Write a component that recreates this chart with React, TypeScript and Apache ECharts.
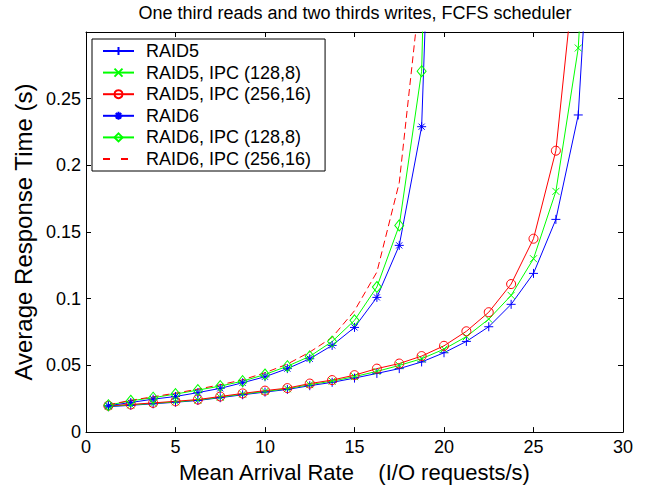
import React, { useEffect, useRef } from "react";
import * as echarts from "echarts";

const FONT = "'Liberation Sans', Arial, Helvetica, sans-serif";

const rateRaid5 = [1.25, 2.5, 3.75, 5, 6.25, 7.5, 8.75, 10, 11.25, 12.5, 13.75, 15, 16.25, 17.5, 18.75, 20, 21.25, 22.5, 23.75, 25, 26.25, 27.5, 28.75];
const raid5 = [0.0190, 0.0201, 0.0212, 0.0224, 0.0237, 0.0258, 0.0280, 0.0300, 0.0320, 0.0348, 0.0373, 0.0405, 0.0440, 0.0476, 0.0526, 0.0595, 0.0680, 0.0790, 0.0958, 0.1190, 0.1595, 0.2378, 0.52];
const raid5Ipc128 = [0.0194, 0.0204, 0.0215, 0.0227, 0.0240, 0.0262, 0.0285, 0.0305, 0.0325, 0.0356, 0.0382, 0.0416, 0.0455, 0.0500, 0.0550, 0.0622, 0.0716, 0.0847, 0.1025, 0.1300, 0.1805, 0.2880, 0.58];
const raid5Ipc256 = [0.0198, 0.0207, 0.0219, 0.0231, 0.0244, 0.0267, 0.0290, 0.0311, 0.0330, 0.0364, 0.0390, 0.0427, 0.0476, 0.0514, 0.0570, 0.0647, 0.0756, 0.0899, 0.1110, 0.1450, 0.2110, 0.372];

const rateRaid6 = [1.25, 2.5, 3.75, 5, 6.25, 7.5, 8.75, 10, 11.25, 12.5, 13.75, 15, 16.25, 17.5, 18.75, 20];
const raid6 = [0.0198, 0.0222, 0.0247, 0.0267, 0.0296, 0.0328, 0.0370, 0.0415, 0.0476, 0.0550, 0.0650, 0.0785, 0.1010, 0.1400, 0.2290, 0.71];
const raid6Ipc128 = [0.0202, 0.0235, 0.0258, 0.0285, 0.0315, 0.0345, 0.0382, 0.0432, 0.0494, 0.0568, 0.0679, 0.0838, 0.1088, 0.1550, 0.2706, 0.95];
const raid6Ipc256 = [0.0205, 0.0238, 0.0265, 0.0292, 0.0322, 0.0355, 0.0392, 0.0445, 0.0510, 0.0600, 0.0710, 0.0910, 0.1200, 0.1870, 0.3410];

const xTicks = { min: 0, max: 30, interval: 5 };
const yTicks = { min: 0, max: 0.3, interval: 0.05 };

const seriesNames = [
  "RAID5",
  "RAID5, IPC (128,8)",
  "RAID5, IPC (256,16)",
  "RAID6",
  "RAID6, IPC (128,8)",
  "RAID6, IPC (256,16)",
];

const BLUE = "#0000ff";
const GREEN = "#00ff00";
const RED = "#ff0000";

const PLUS = "path://M5,0L5,10M0,5L10,5";
const CROSS = "path://M0,0L10,10M10,0L0,10";
const STAR = "path://M5,0L5,10M0,5L10,5M1.6,1.6L8.4,8.4M8.4,1.6L1.6,8.4";

function pairs(xs: number[], ys: number[]) {
  return ys.map((y, i) => [xs[i], y]);
}

export default function App() {
  const ref = useRef<HTMLDivElement>(null);
  useEffect(() => {
    const chart = echarts.init(ref.current!, null, { renderer: "svg" });
    const axisCommon = {
      axisLine: { show: true, onZero: false, lineStyle: { color: "#000", width: 1 } },
      axisTick: { show: true, inside: true, length: 5, lineStyle: { color: "#000", width: 1 } },
      splitLine: { show: false },
    };
    const mk = (name: string, xs: number[], ys: number[], color: string, symbol: string, size: number | number[], dashed = false) => ({
      name,
      type: "line",
      data: pairs(xs, ys),
      symbol,
      symbolSize: size,
      showSymbol: symbol !== "none",
      clip: true,
      lineStyle: { color, width: 1, type: dashed ? [7, 4] : "solid" },
      itemStyle: { color: "none", borderColor: color, borderWidth: 1 },
      emphasis: { disabled: true },
      z: 2,
    });
    chart.setOption({
      animation: false,
      backgroundColor: "#fff",
      textStyle: { fontFamily: FONT },
      grid: { left: 86, right: 35, top: 32, bottom: 52, containLabel: false },
      graphic: [
        {
          type: "text",
          x: 355,
          y: 13,
          style: {
            text: "One third reads and two thirds writes, FCFS scheduler",
            fontSize: 18,
            fontFamily: FONT,
            fill: "#000",
            align: "center",
            verticalAlign: "middle",
          },
        },
      ],
      legend: {
        orient: "vertical",
        left: 92,
        top: 39,
        data: seriesNames.map((n, i) =>
          i === 5
            ? { name: n, itemStyle: { opacity: 0 }, lineStyle: { type: [7, 11] } }
            : { name: n }
        ),
        backgroundColor: "#fff",
        borderColor: "#000",
        borderWidth: 1,
        borderRadius: 0,
        padding: [2, 14, 2, 10],
        itemWidth: 31,
        itemHeight: 10,
        itemGap: 1.6,
        textStyle: { fontSize: 18, fontFamily: FONT, color: "#000", lineHeight: 20, padding: [0, 0, 0, 7] },
        selectedMode: false,
      },
      xAxis: [
        {
          type: "value",
          ...xTicks,
          position: "bottom",
          ...axisCommon,
          axisLabel: { show: true, fontSize: 18, color: "#000", margin: 6, fontFamily: FONT },
          name: "Mean Arrival Rate    (I/O requests/s)",
          nameLocation: "middle",
          nameGap: 22,
          nameTextStyle: { fontSize: 22, color: "#000", fontFamily: FONT },
        },
        {
          type: "value",
          ...xTicks,
          position: "top",
          ...axisCommon,
          axisLabel: { show: false },
        },
      ],
      yAxis: [
        {
          type: "value",
          ...yTicks,
          position: "left",
          ...axisCommon,
          axisLabel: { show: true, fontSize: 18, color: "#000", margin: 5, fontFamily: FONT, showMaxLabel: false },
          name: "Average Response Time (s)",
          nameLocation: "middle",
          nameGap: 45,
          nameTextStyle: { fontSize: 24, color: "#000", fontFamily: FONT },
        },
        {
          type: "value",
          ...yTicks,
          position: "right",
          ...axisCommon,
          axisLabel: { show: false },
        },
      ],
      series: [
        mk(seriesNames[0], rateRaid5, raid5, BLUE, PLUS, 9),
        mk(seriesNames[1], rateRaid5, raid5Ipc128, GREEN, CROSS, 7),
        mk(seriesNames[2], rateRaid5, raid5Ipc256, RED, "circle", 9),
        mk(seriesNames[3], rateRaid6, raid6, BLUE, STAR, 9),
        mk(seriesNames[4], rateRaid6, raid6Ipc128, GREEN, "diamond", [9, 11]),
        mk(seriesNames[5], rateRaid6, raid6Ipc256, RED, "none", 0, true),
      ],
    });
    return () => chart.dispose();
  }, []);
  return <div ref={ref} style={{ position: "fixed", left: 0, top: 0, width: 658, height: 488 }} />;
}
